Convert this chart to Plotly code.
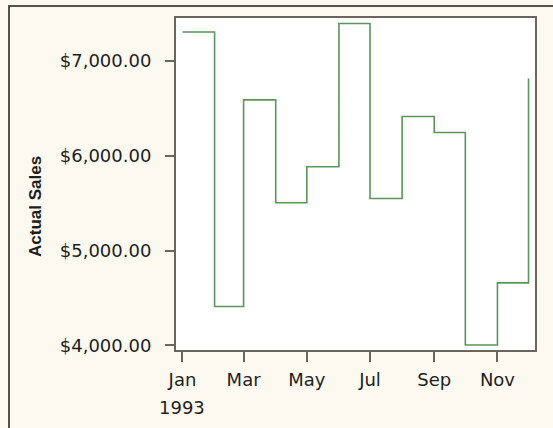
import plotly.graph_objects as go

months = ["1993-01-01", "1993-02-01", "1993-03-01", "1993-04-01", "1993-05-01", "1993-06-01",
          "1993-07-01", "1993-08-01", "1993-09-01", "1993-10-01", "1993-11-01", "1993-12-01"]
actual_sales = [7305, 4410, 6590, 5505, 5885, 7395, 5550, 6415, 6245, 4005, 4660, 6815]

tick_vals = ["1993-01-01", "1993-03-01", "1993-05-01", "1993-07-01", "1993-09-01", "1993-11-01"]
tick_text = ["Jan", "Mar", "May", "Jul", "Sep", "Nov"]
y_ticks = [4000, 5000, 6000, 7000]
year_label = "1993"
y_title = "Actual Sales"

FONT = "DejaVu Sans"
TITLE_FONT = "Liberation Sans"
TXT = "#1e1e1e"
AXIS_COL = "#6a655d"

fig = go.Figure()
fig.add_trace(go.Scatter(
    x=months, y=actual_sales, mode="lines", line_shape="hv",
    line=dict(color="#5a955a", width=1.6), showlegend=False,
))

fig.update_layout(
    width=553, height=428,
    margin=dict(l=176, r=18, t=18, b=78),
    paper_bgcolor="#fcf9f1",
    plot_bgcolor="#ffffff",
    font=dict(family=FONT, size=18, color=TXT),
    xaxis=dict(
        type="date",
        range=["1992-12-25 18:00", "1993-12-07 06:00"],
        tickvals=tick_vals, ticktext=tick_text,
        ticks="outside", ticklen=10, tickwidth=2, tickcolor=AXIS_COL,
        showline=True, linewidth=2, linecolor=AXIS_COL, mirror=True,
        showgrid=False, zeroline=False,
        tickfont=dict(family=FONT, size=18, color=TXT),
        ticklabelstandoff=2,
    ),
    yaxis=dict(
        range=[3952, 7453],
        tickvals=y_ticks, tickformat="$,.2f",
        ticks="outside", ticklen=9, tickwidth=2, tickcolor=AXIS_COL,
        showline=True, linewidth=2, linecolor=AXIS_COL, mirror=True,
        showgrid=False, zeroline=False,
        tickfont=dict(family=FONT, size=18, color=TXT),
        ticklabelstandoff=10,
    ),
    shapes=[dict(
        type="rect", xref="paper", yref="paper",
        x0=(9 - 176) / 359, x1=(570 - 176) / 359,
        y0=(350 - 440) / 332, y1=1 + (18 - 6) / 332,
        line=dict(color="#57534c", width=2), fillcolor="rgba(0,0,0,0)", layer="below",
    )],
    annotations=[
        dict(text="<b>" + y_title + "</b>", textangle=-90, xref="paper", yref="paper",
             x=(35 - 176) / 359, y=(350 - 207) / 332, xanchor="center", yanchor="middle",
             showarrow=False, font=dict(family=TITLE_FONT, size=17, color=TXT)),
        dict(text=year_label, xref="x", yref="paper", x="1993-01-01",
             y=(350 - 407) / 332, xanchor="center", yanchor="middle",
             showarrow=False, font=dict(family=FONT, size=18, color=TXT)),
    ],
)

post = """
document.body.style.margin = '0';
document.body.style.background = '#fcf9f1';
"""

fig.write_html("out.html", post_script=post, config={"displayModeBar": False})
